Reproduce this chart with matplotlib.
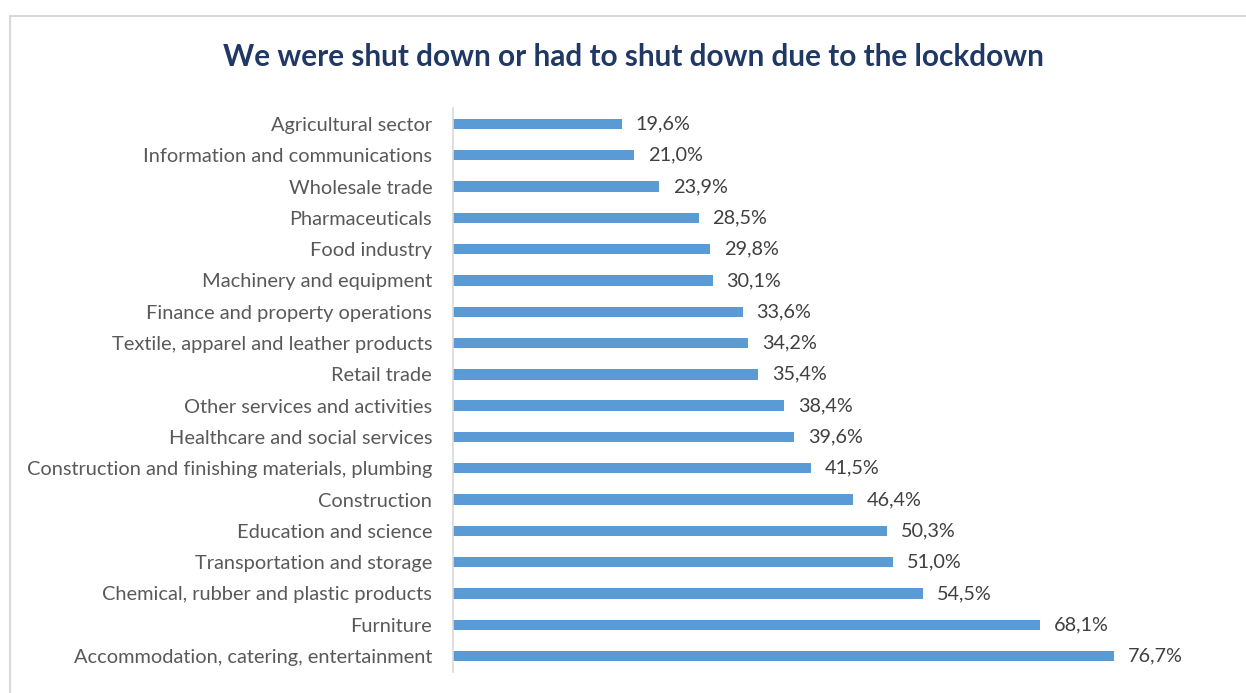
import matplotlib.pyplot as plt
from matplotlib.patches import Rectangle

sectors = [
    "Agricultural sector",
    "Information and communications",
    "Wholesale trade",
    "Pharmaceuticals",
    "Food industry",
    "Machinery and equipment",
    "Finance and property operations",
    "Textile, apparel and leather products",
    "Retail trade",
    "Other services and activities",
    "Healthcare and social services",
    "Construction and finishing materials, plumbing",
    "Construction",
    "Education and science",
    "Transportation and storage",
    "Chemical, rubber and plastic products",
    "Furniture",
    "Accommodation, catering, entertainment",
]
shares = [19.6, 21.0, 23.9, 28.5, 29.8, 30.1, 33.6, 34.2, 35.4,
          38.4, 39.6, 41.5, 46.4, 50.3, 51.0, 54.5, 68.1, 76.7]

plt.rcParams['font.family'] = ['Lato', 'DejaVu Sans']

fig = plt.figure(figsize=(12.46, 6.93), dpi=100)

# light grey frame around the chart area
fig.patches.append(Rectangle((10 / 1246, -0.1), 1.2, 1 - 16 / 693 + 0.1,
                             transform=fig.transFigure, fill=False,
                             edgecolor='#D9D9D9', linewidth=1.5))

ax = fig.add_axes([453 / 1246, 0.0308, (1229 - 453) / 1246, 0.8437 - 0.0308])

pos = list(range(len(sectors)))
ax.barh(pos, shares, height=0.33, color='#5B9BD5')
ax.set_ylim(len(sectors) - 0.5, -0.5)
ax.set_xlim(0, 90)

ax.set_yticks(pos)
ax.set_yticklabels(sectors, fontsize=14.4, color='#595959')
ax.tick_params(axis='y', length=0, pad=15)
ax.set_xticks([])

for p, v in zip(pos, shares):
    ax.text(v + 1.6, p, f"{v:.1f}%".replace('.', ','), va='center', ha='left',
            fontsize=14.3, color='#404040')

for side in ['top', 'right', 'bottom']:
    ax.spines[side].set_visible(False)
ax.spines['left'].set_color('#D9D9D9')
ax.spines['left'].set_linewidth(1.2)

fig.text(633 / 1246, 1 - 57 / 693, "We were shut down or had to shut down due to the lockdown",
         ha='center', va='center', fontsize=21.4, fontweight='bold', color='#1F3864')

fig.savefig('out.png', dpi=100)
